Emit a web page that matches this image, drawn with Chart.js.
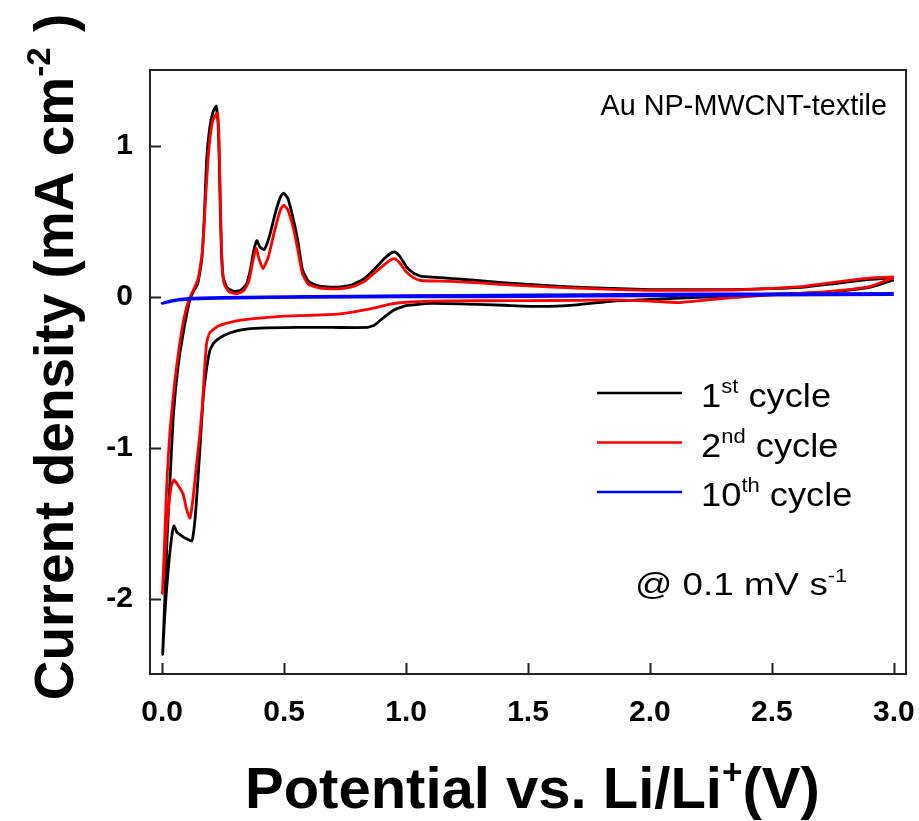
<!DOCTYPE html>
<html>
<head>
<meta charset="utf-8">
<title>CV - Au NP-MWCNT-textile</title>
<script src="https://cdn.jsdelivr.net/npm/chart.js@4.4.1/dist/chart.umd.min.js"></script>
<style>
  html, body { margin: 0; padding: 0; background: #fff; }
  #wrap { width: 919px; height: 821px; }
</style>
</head>
<body>
<div id="wrap"><canvas id="chart"></canvas></div>
<script>
// Cyclic voltammograms: potential (V vs Li/Li+) and current density (mA cm-2),
// each sweep starts at 3.0 V, goes cathodic to 0 V and back.
const cycle1Potential = [
  3.00, 2.90, 2.75, 2.60, 2.40, 2.20, 2.00, 1.85, 1.70, 1.55, 1.40, 1.25, 1.10, 1.00, 0.95, 0.90,
  0.87, 0.84, 0.70, 0.55, 0.40, 0.33, 0.28, 0.24, 0.21, 0.195, 0.18, 0.168, 0.155, 0.145, 0.136,
  0.128, 0.121, 0.10, 0.08, 0.06, 0.048, 0.04, 0.028, 0.016, 0.008, 0.002,
  0.006, 0.011, 0.02, 0.032, 0.046, 0.066, 0.093, 0.114, 0.13, 0.145, 0.162, 0.172, 0.182, 0.195,
  0.208, 0.221, 0.229, 0.234, 0.238, 0.243, 0.25, 0.265, 0.29, 0.32, 0.345, 0.362, 0.375, 0.388,
  0.40, 0.418, 0.44, 0.465, 0.485, 0.498, 0.515, 0.535, 0.555, 0.575, 0.60, 0.64, 0.72, 0.78,
  0.83, 0.87, 0.91, 0.94, 0.955, 0.975, 1.00, 1.03, 1.06, 1.18, 1.30, 1.44, 1.60, 1.75, 2.00,
  2.34, 2.62, 2.76, 2.90, 3.00
];
const cycle1Current = [
  0.11, 0.06, 0.03, 0.02, 0.01, -0.005, -0.02, -0.03, -0.055, -0.066, -0.058, -0.05, -0.046, -0.06, -0.09, -0.15,
  -0.19, -0.205, -0.205, -0.205, -0.21, -0.22, -0.24, -0.27, -0.31, -0.36, -0.5, -0.67, -1.0, -1.25, -1.45,
  -1.57, -1.62, -1.605, -1.585, -1.56, -1.52, -1.58, -1.75, -1.98, -2.18, -2.37,
  -2.2, -2.0, -1.6, -1.22, -0.78, -0.45, -0.18, -0.02, 0.04, 0.08, 0.24, 0.5, 0.9, 1.12,
  1.22, 1.26, 1.15, 0.9, 0.6, 0.3, 0.13, 0.06, 0.035, 0.04, 0.08, 0.18, 0.30, 0.37,
  0.33, 0.31, 0.40, 0.56, 0.66, 0.685, 0.65, 0.53, 0.38, 0.18, 0.10, 0.07, 0.062, 0.078,
  0.12, 0.18, 0.25, 0.29, 0.295, 0.265, 0.20, 0.155, 0.135, 0.12, 0.105, 0.086, 0.07, 0.058, 0.046,
  0.046, 0.06, 0.086, 0.113, 0.125
];

const cycle2Potential = [
  3.00, 2.90, 2.75, 2.60, 2.40, 2.25, 2.12, 2.00, 1.85, 1.70, 1.50, 1.30, 1.10, 1.00, 0.936, 0.853,
  0.73, 0.60, 0.50, 0.40, 0.33, 0.27, 0.225, 0.195, 0.183, 0.175, 0.165, 0.152, 0.141, 0.127, 0.114,
  0.10, 0.086, 0.065, 0.048, 0.038, 0.027, 0.015, 0.006, 0.001,
  0.006, 0.011, 0.02, 0.032, 0.052, 0.08, 0.10, 0.114, 0.13, 0.148, 0.165, 0.178, 0.19, 0.205,
  0.218, 0.227, 0.233, 0.237, 0.241, 0.246, 0.255, 0.275, 0.306, 0.335, 0.355, 0.37, 0.385, 0.397,
  0.413, 0.435, 0.46, 0.485, 0.498, 0.515, 0.535, 0.555, 0.575, 0.60, 0.65, 0.72, 0.78, 0.83,
  0.87, 0.91, 0.94, 0.955, 0.975, 1.00, 1.03, 1.06, 1.18, 1.30, 1.44, 1.60, 1.75, 2.00, 2.34,
  2.62, 2.76, 2.90, 3.00
];
const cycle2Current = [
  0.125, 0.065, 0.035, 0.02, 0.0, -0.02, -0.04, -0.03, -0.022, -0.026, -0.027, -0.028, -0.031, -0.038, -0.05, -0.082,
  -0.115, -0.125, -0.13, -0.143, -0.155, -0.175, -0.2, -0.24, -0.3, -0.45, -0.72, -0.95, -1.11, -1.33, -1.467,
  -1.41, -1.31, -1.25, -1.215, -1.25, -1.38, -1.6, -1.85, -1.965,
  -1.78, -1.575, -1.2, -0.89, -0.558, -0.226, -0.07, -0.005, 0.05, 0.12, 0.3, 0.65, 0.95, 1.15,
  1.2, 1.215, 1.05, 0.75, 0.45, 0.2, 0.08, 0.03, 0.018, 0.04, 0.10, 0.22, 0.32, 0.25,
  0.184, 0.26, 0.43, 0.575, 0.605, 0.575, 0.47, 0.32, 0.15, 0.08, 0.055, 0.051, 0.065, 0.10,
  0.155, 0.21, 0.245, 0.25, 0.22, 0.165, 0.125, 0.106, 0.10, 0.09, 0.075, 0.062, 0.052, 0.04, 0.043,
  0.065, 0.095, 0.122, 0.13
];

const cycle10Potential = [
  3.00, 2.50, 2.00, 1.50, 1.00, 0.60, 0.30, 0.15, 0.06, 0.00,
  0.03, 0.10, 0.25, 0.60, 1.00, 1.50, 2.00, 2.50, 3.00
];
const cycle10Current = [
  0.013, 0.009, 0.004, 0.0, -0.003, -0.006, -0.01, -0.015, -0.025, -0.045,
  -0.03, -0.014, -0.006, 0.0, 0.006, 0.01, 0.015, 0.018, 0.02
];

const xTicks = [0.0, 0.5, 1.0, 1.5, 2.0, 2.5, 3.0];
const yTicks = [-2, -1, 0, 1];

// rich text pieces: [text, superscript?]
const legendLabels = [
  [['1', false], ['st', true], [' cycle', false]],
  [['2', false], ['nd', true], [' cycle', false]],
  [['10', false], ['th', true], [' cycle', false]]
];
const legendColors = ['#000000', '#ff0000', '#0000ff'];
const sampleLabel = [['Au NP-MWCNT-textile', false]];
const rateLabel = [['@ 0.1 mV s', false], ['-1', true]];
const xTitle = [['Potential vs. Li/Li', false], ['+', true], ['(V)', false]];
const yTitle = [['Current density (mA cm', false], ['-2', true], [' )', false]];

const FAMILY = '"Liberation Sans", Arial, Helvetica, sans-serif';

function toPoints(xs, ys) {
  return xs.map((x, i) => ({ x: x, y: ys[i] }));
}

function drawRich(c, parts, x, y, size, weight, sx, align) {
  c.save();
  c.translate(x, y);
  c.scale(sx, 1);
  c.textBaseline = 'alphabetic';
  c.textAlign = 'left';
  c.fillStyle = '#000';
  const fontOf = (p) => `${weight} ${p[1] ? Math.round(size * 0.6) : size}px ${FAMILY}`;
  let total = 0;
  parts.forEach(p => { c.font = fontOf(p); total += c.measureText(p[0]).width; });
  let cx = align === 'right' ? -total : (align === 'center' ? -total / 2 : 0);
  parts.forEach(p => {
    c.font = fontOf(p);
    c.fillText(p[0], cx, p[1] ? -size * 0.42 : 0);
    cx += c.measureText(p[0]).width;
  });
  c.restore();
}

// frame, inward ticks, titles, legend and notes
const decorations = {
  id: 'decorations',
  afterDraw(chart) {
    const c = chart.ctx;
    const a = chart.chartArea;
    const xs = chart.scales.x;
    const ys = chart.scales.y;

    c.save();
    c.strokeStyle = '#222';
    c.lineWidth = 2;
    c.strokeRect(a.left, a.top, a.right - a.left, a.bottom - a.top);
    c.beginPath();
    xTicks.forEach(v => {
      const px = Math.round(xs.getPixelForValue(v)) + 0.5;
      c.moveTo(px, a.bottom);
      c.lineTo(px, a.bottom - 11);
    });
    yTicks.forEach(v => {
      const py = Math.round(ys.getPixelForValue(v)) + 0.5;
      c.moveTo(a.left, py);
      c.lineTo(a.left + 11, py);
    });
    c.stroke();

    // legend
    legendLabels.forEach((parts, i) => {
      const ly = 393 + i * 49.5;
      c.strokeStyle = legendColors[i];
      c.lineWidth = 2.5;
      c.beginPath();
      c.moveTo(597, ly);
      c.lineTo(682, ly);
      c.stroke();
      drawRich(c, parts, 701, ly + 14, 33, 'normal', 1.1, 'left');
    });

    drawRich(c, sampleLabel, 887, 115, 30, 'normal', 0.96, 'right');
    drawRich(c, rateLabel, 635, 595, 32, 'normal', 1.15, 'left');

    drawRich(c, xTitle, 245, 808, 58, 'bold', 1, 'left');
    c.save();
    c.translate(73, 357);
    c.rotate(-Math.PI / 2);
    drawRich(c, yTitle, 0, 0, 55, 'bold', 1, 'center');
    c.restore();
    c.restore();
  }
};

const ctx = document.getElementById('chart').getContext('2d');

new Chart(ctx, {
  type: 'scatter',
  data: {
    datasets: [
      {
        label: '1st cycle',
        data: toPoints(cycle1Potential, cycle1Current),
        borderColor: '#000000',
        order: 2
      },
      {
        label: '2nd cycle',
        data: toPoints(cycle2Potential, cycle2Current),
        borderColor: '#ff0000',
        order: 1
      },
      {
        label: '10th cycle',
        data: toPoints(cycle10Potential, cycle10Current),
        borderColor: '#0000ff',
        order: 0
      }
    ]
  },
  options: {
    responsive: true,
    maintainAspectRatio: false,
    animation: false,
    showLine: true,
    elements: {
      point: { radius: 0 },
      line: { borderWidth: 2.8, tension: 0.15, fill: false }
    },
    layout: { padding: { top: 70, right: 13, left: 0, bottom: 0 } },
    plugins: {
      legend: { display: false },
      tooltip: { enabled: false }
    },
    scales: {
      x: {
        type: 'linear',
        min: -0.05,
        max: 3.05,
        grid: { display: false, drawTicks: false },
        border: { display: false },
        afterBuildTicks: s => { s.ticks = xTicks.map(v => ({ value: v })); },
        afterFit: s => { s.height = 147; s.paddingLeft = 0; s.paddingRight = 0; },
        ticks: {
          color: '#000',
          padding: 21,
          maxRotation: 0,
          font: { family: FAMILY, size: 30, weight: 'bold' },
          callback: v => v.toFixed(1)
        }
      },
      y: {
        type: 'linear',
        min: -2.5,
        max: 1.5,
        grid: { display: false, drawTicks: false },
        border: { display: false },
        afterBuildTicks: s => { s.ticks = yTicks.map(v => ({ value: v })); },
        afterFit: s => { s.width = 150; s.paddingTop = 0; s.paddingBottom = 0; },
        ticks: {
          color: '#000',
          padding: 17,
          font: { family: FAMILY, size: 30, weight: 'bold' },
          callback: v => String(v)
        }
      }
    }
  },
  plugins: [decorations]
});
</script>
</body>
</html>
